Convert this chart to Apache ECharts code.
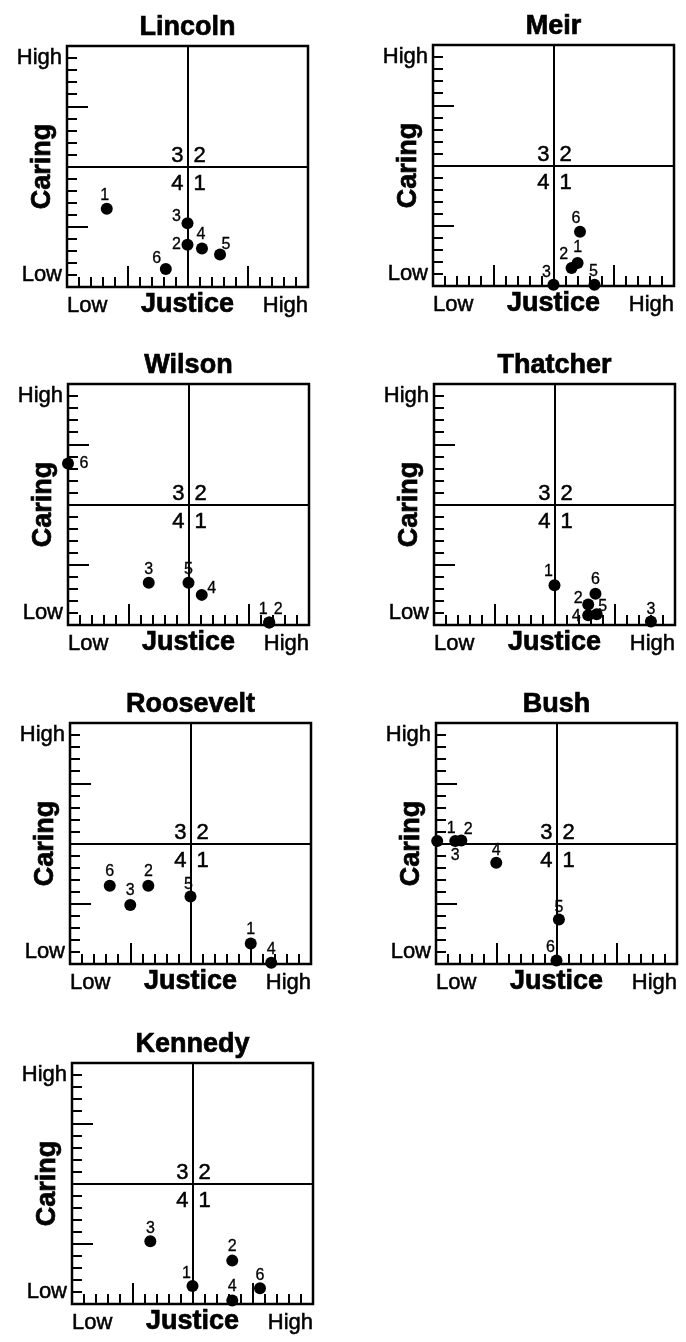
<!DOCTYPE html>
<html>
<head>
<meta charset="utf-8">
<script src="https://cdn.jsdelivr.net/npm/echarts@6/dist/echarts.min.js"></script>
<style>
  html, body { margin: 0; padding: 0; background: #fff; }
  #chart { width: 686px; height: 1342px; }
</style>
</head>
<body>
<div id="chart"></div>
<script>
// Leaders, each rated on six items (1-6) for Justice (x) and Caring (y).
// Scale runs from -10 (Low edge) to +10 (High edge); 0 splits the quadrants.
const panelNames = ['Lincoln', 'Meir', 'Wilson', 'Thatcher', 'Roosevelt', 'Bush', 'Kennedy'];
const itemIds = ['1', '2', '3', '4', '5', '6'];
const quadrantNames = ['3', '2', '4', '1'];
const xTickNames = { low: 'Low', high: 'High' };
const yTickNames = { low: 'Low', high: 'High' };

const lincolnJustice   = [-6.7, 0.0, 0.0, 1.2, 2.7, -1.8];
const lincolnCaring    = [-3.5, -6.5, -4.7, -6.8, -7.3, -8.5];
const meirJustice      = [2.0, 1.5, 0.0, null, 3.4, 2.2];
const meirCaring       = [-8.1, -8.5, -9.9, null, -9.9, -5.5];
const wilsonJustice    = [6.7, 6.7, -3.3, 1.1, 0.0, -10.0];
const wilsonCaring     = [-9.8, -9.8, -6.5, -7.5, -6.5, 3.4];
const thatcherJustice  = [0.0, 2.8, 8.0, 2.8, 3.5, 3.4];
const thatcherCaring   = [-6.7, -8.3, -9.7, -9.2, -9.1, -7.4];
const rooseveltJustice = [5.0, -3.5, -5.0, 6.7, 0.0, -6.7];
const rooseveltCaring  = [-8.3, -3.5, -5.1, -9.9, -4.4, -3.5];
const bushJustice      = [-9.9, -7.9, -8.4, -5.0, 0.2, 0.0];
const bushCaring       = [0.2, 0.25, 0.2, -1.6, -6.3, -9.7];
const kennedyJustice   = [0.0, 3.3, -3.5, 3.3, null, 5.6];
const kennedyCaring    = [-8.5, -6.4, -4.8, -9.7, null, -8.7];

const justiceValues = [lincolnJustice, meirJustice, wilsonJustice, thatcherJustice,
                       rooseveltJustice, bushJustice, kennedyJustice];
const caringValues  = [lincolnCaring, meirCaring, wilsonCaring, thatcherCaring,
                       rooseveltCaring, bushCaring, kennedyCaring];

// ---- presentation ----
const FONT = '"Liberation Sans", Arial, Helvetica, sans-serif';
const BOX = 241;
const panelBoxes = [[67, 46], [433, 45], [68, 384], [434, 384], [70, 723], [436, 723], [72, 1063]];
// pixel nudges of each item's number relative to its dot
const D = [0, -13];
const labelNudges = [
  [[-2, -13], [-11, 0], [-11, -7], [-1, -14], [6, -10], [-9, -10]],
  [[0, -16], [-8, -13], [-7, -12], D, [-1, -13], [-4, -13]],
  [[-6, -13], [9, -13], [0, -13], [10, -6], [0, -13], [16, 0]],
  [[-6, -14], [-10, -6], [0, -12], [-12, 1], [6, -8], [0, -14]],
  [[0, -14], [0, -14], [0, -14], [0, -13], [-2, -12], [0, -14]],
  [[14, -12], [7, -11], [0, 15], [0, -12], [0, -12], [-6, -13]],
  [[-6, -12], [0, -14], [0, -13], [0, -14], D, [0, -13]]
];
const quadrantStyle = [
  { align: 'right', offset: [-4, -11] },
  { align: 'left',  offset: [6, -11] },
  { align: 'right', offset: [-4, 17] },
  { align: 'left',  offset: [6, 17] }
];

// heavy black lettering
const plainText = { color: '#000', fontFamily: FONT, textBorderColor: '#000', textBorderWidth: 0.5 };
const boldText = { color: '#000', fontFamily: FONT, fontWeight: 'bold', fontSize: 27,
                   textBorderColor: '#000', textBorderWidth: 0.7 };

const tickStyle = { color: '#000', width: 2 };
const hiddenLine = { show: false, onZero: false };
const grids = [], xAxes = [], yAxes = [], series = [], titles = [];

panelNames.forEach((name, i) => {
  const [left, top] = panelBoxes[i];
  grids.push({
    left, top, width: BOX, height: BOX,
    show: true, borderColor: '#000', borderWidth: 2.5,
    backgroundColor: 'transparent', containLabel: false, outerBoundsMode: 'none'
  });
  titles.push({
    text: name, left: left + BOX / 2, top: top - 32, textAlign: 'center', padding: 0,
    textStyle: Object.assign({}, boldText)
  });

  // short ticks + end labels
  xAxes.push({
    gridIndex: i, type: 'value', min: -10, max: 10, interval: 1, position: 'bottom',
    axisLine: hiddenLine, splitLine: { show: false },
    axisTick: { show: true, inside: true, length: 10, lineStyle: tickStyle },
    axisLabel: Object.assign({
      show: true, fontSize: 22, margin: 8,
      showMinLabel: true, showMaxLabel: true,
      alignMinLabel: 'left', alignMaxLabel: 'right',
      formatter: v => v === -10 ? xTickNames.low : (v === 10 ? xTickNames.high : '')
    }, plainText),
    name: 'Justice', nameLocation: 'middle', nameGap: 4, nameMoveOverlap: false,
    nameTextStyle: Object.assign({}, boldText)
  });
  // long ticks at the midpoints of each half
  xAxes.push({
    gridIndex: i, type: 'value', min: -10, max: 10, interval: 5, position: 'bottom',
    axisLine: hiddenLine, splitLine: { show: false },
    axisTick: { show: true, inside: true, length: 21, lineStyle: tickStyle },
    axisLabel: { show: false }
  });
  yAxes.push({
    gridIndex: i, type: 'value', min: -10, max: 10, interval: 1, position: 'left',
    axisLine: hiddenLine, splitLine: { show: false },
    axisTick: { show: true, inside: true, length: 10, lineStyle: tickStyle },
    axisLabel: Object.assign({
      show: true, fontSize: 22, margin: 5,
      formatter: v => v === -9 ? yTickNames.low : (v === 9 ? yTickNames.high : '')
    }, plainText),
    name: 'Caring', nameLocation: 'middle', nameGap: 11, nameMoveOverlap: false,
    nameTextStyle: Object.assign({}, boldText)
  });
  yAxes.push({
    gridIndex: i, type: 'value', min: -10, max: 10, interval: 5, position: 'left',
    axisLine: hiddenLine, splitLine: { show: false },
    axisTick: { show: true, inside: true, length: 21, lineStyle: tickStyle },
    axisLabel: { show: false }
  });

  // quadrant numbers and the crosshair through the midpoint
  series.push({
    type: 'scatter', xAxisIndex: 2 * i, yAxisIndex: 2 * i, silent: true, z: 1,
    symbolSize: 1, itemStyle: { color: 'rgba(0,0,0,0)', opacity: 1 }, clip: false,
    data: quadrantNames.map((q, k) => ({
      value: [0, 0], name: q,
      label: Object.assign({
        show: true, position: 'inside', formatter: '{b}',
        fontSize: 22, verticalAlign: 'middle',
        align: quadrantStyle[k].align, offset: quadrantStyle[k].offset
      }, plainText)
    })),
    markLine: {
      silent: true, symbol: ['none', 'none'], label: { show: false },
      lineStyle: { color: '#000', type: 'solid', width: 2, opacity: 1 },
      emphasis: { disabled: true },
      data: [{ xAxis: 0 }, { yAxis: 0 }]
    }
  });

  // rated items
  const pts = [];
  itemIds.forEach((id, k) => {
    const x = justiceValues[i][k], y = caringValues[i][k];
    if (x === null || y === null) return;
    pts.push({
      value: [x, y], name: id,
      label: { offset: labelNudges[i][k] }
    });
  });
  series.push({
    type: 'scatter', xAxisIndex: 2 * i, yAxisIndex: 2 * i, z: 3, clip: false,
    symbol: 'circle', symbolSize: 12, itemStyle: { color: '#000', opacity: 1 },
    label: Object.assign({
      show: true, position: 'inside', formatter: '{b}',
      fontSize: 16, align: 'center', verticalAlign: 'middle'
    }, plainText, { textBorderWidth: 0.3 }),
    data: pts
  });
});

const chart = echarts.init(document.getElementById('chart'), null, { renderer: 'canvas' });
chart.setOption({
  animation: false,
  backgroundColor: '#fff',
  title: titles,
  grid: grids,
  xAxis: xAxes,
  yAxis: yAxes,
  series: series
});
</script>
</body>
</html>
